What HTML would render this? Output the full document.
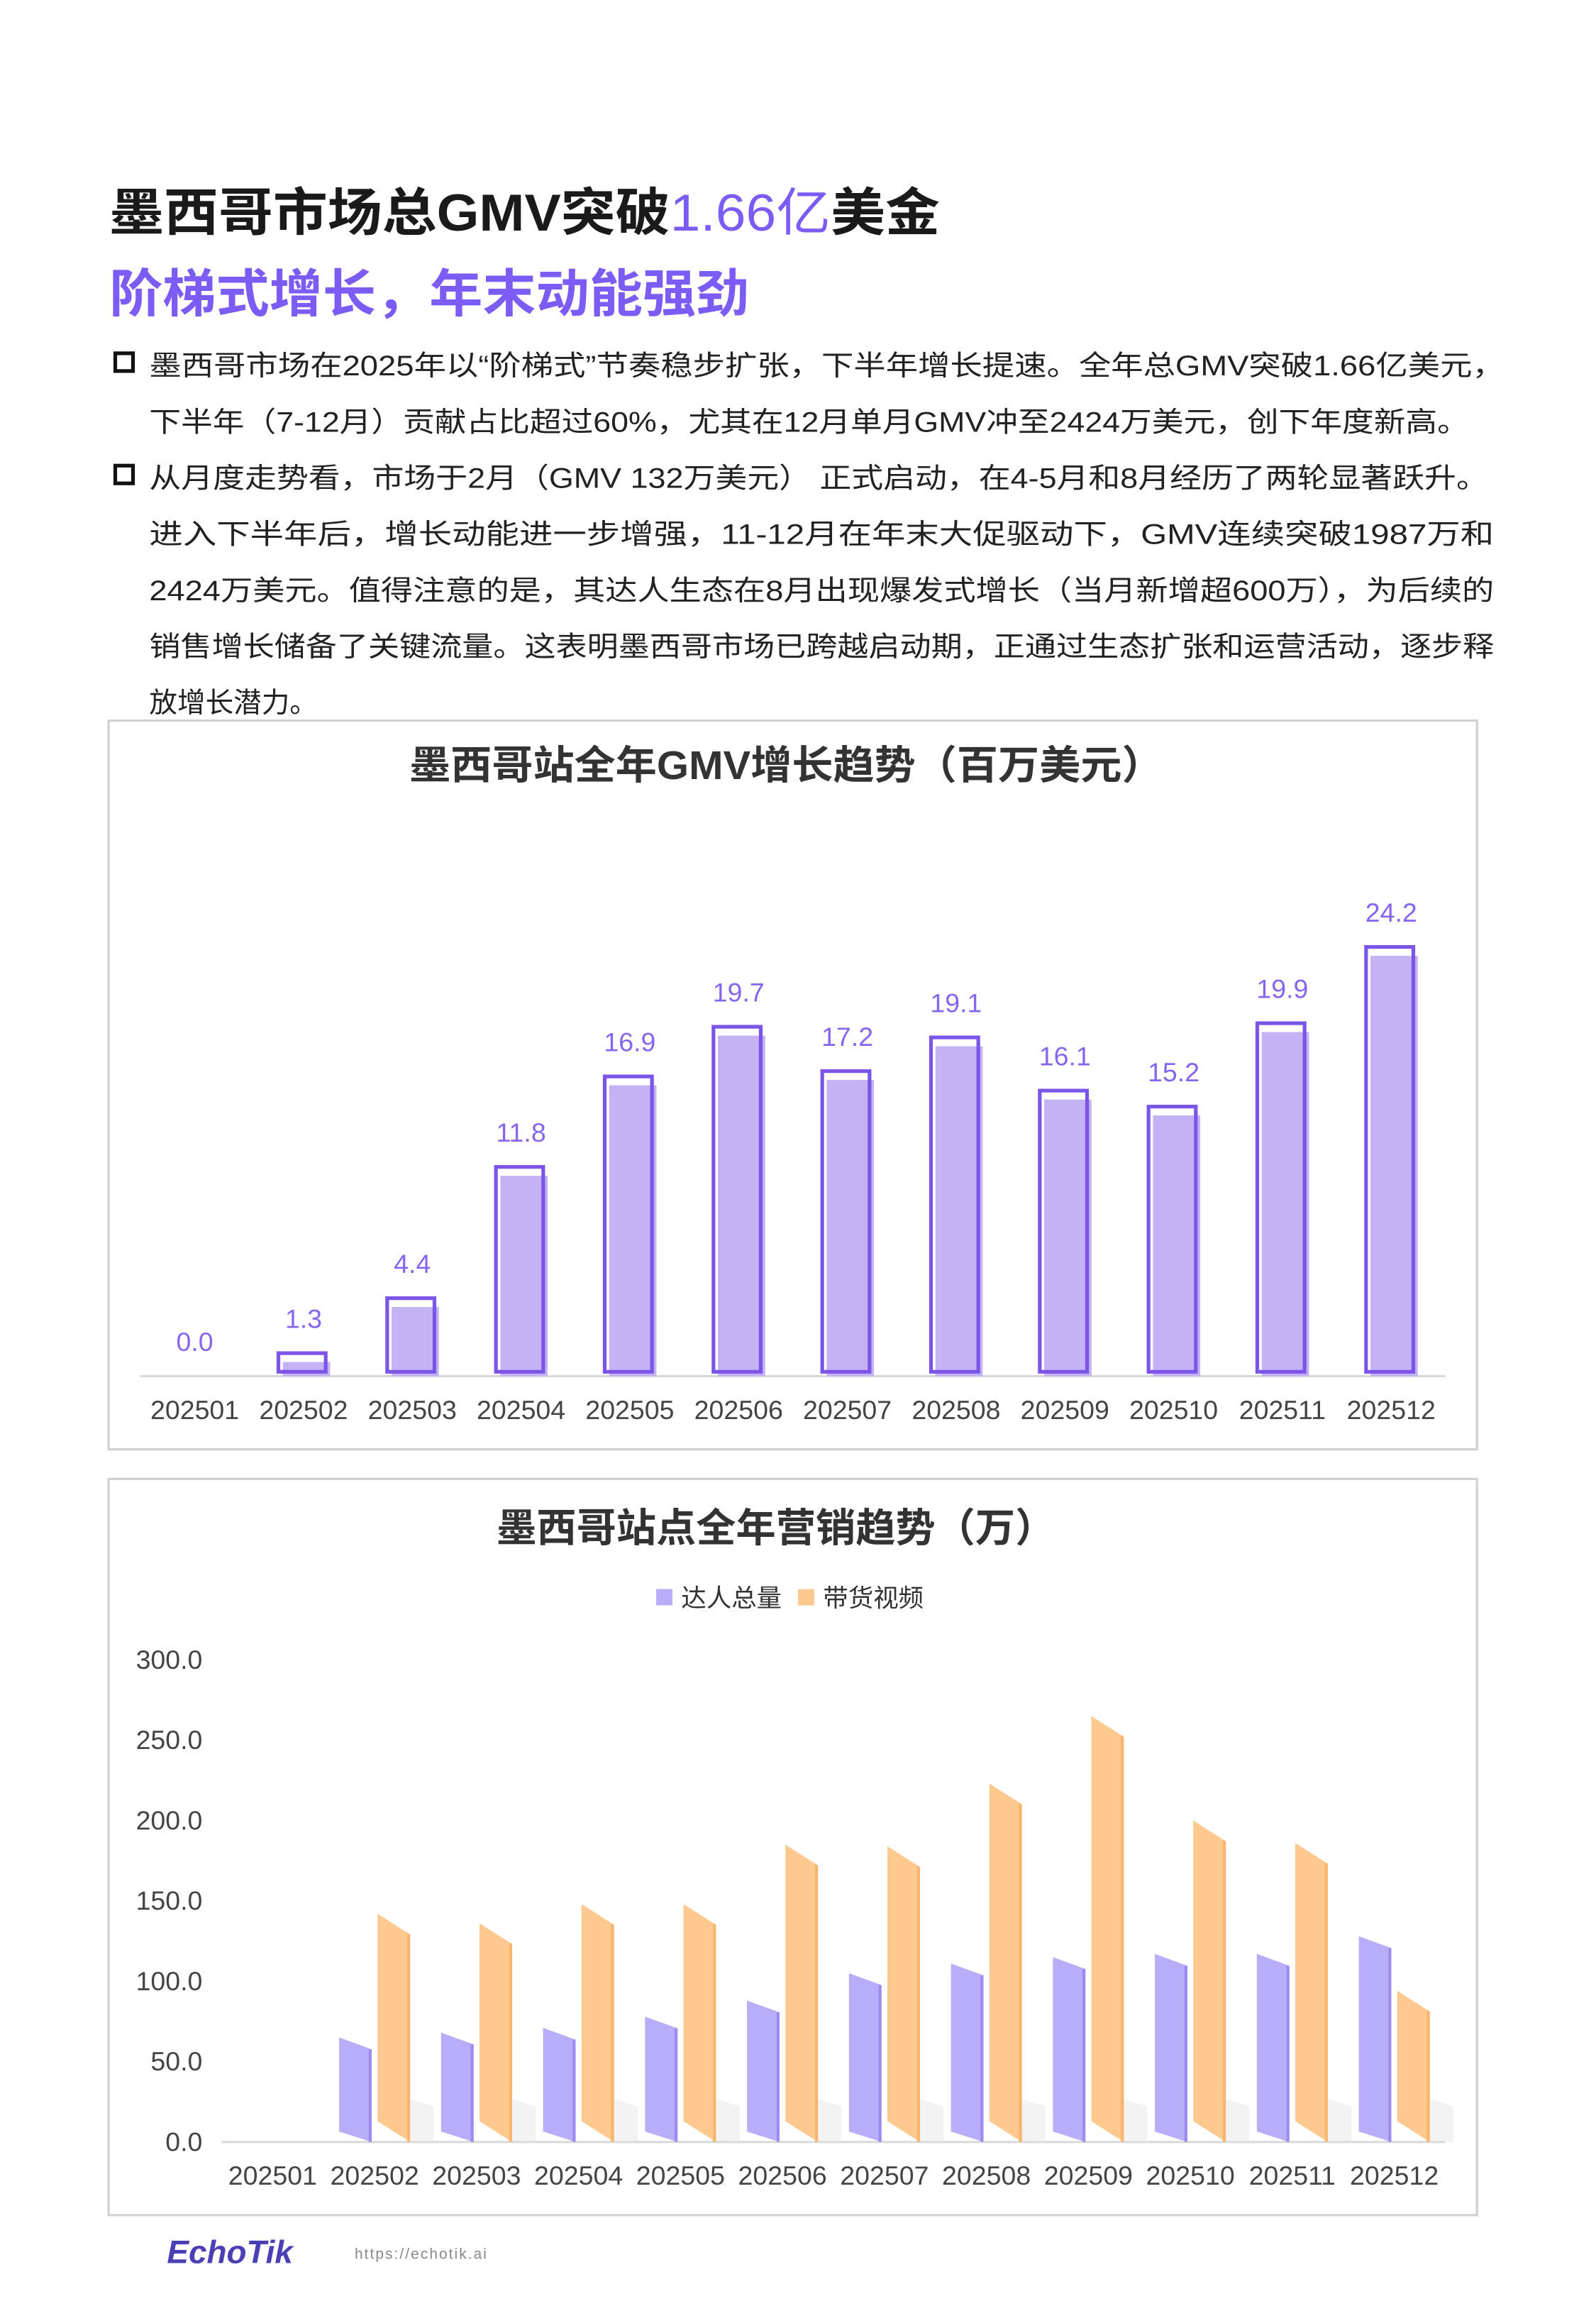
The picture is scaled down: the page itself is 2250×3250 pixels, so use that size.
<!DOCTYPE html>
<html><head><meta charset="utf-8">
<style>
html,body{margin:0;padding:0;background:#fff;}
svg{display:block;}
text{font-family:"Liberation Sans","Noto Sans CJK SC",sans-serif;}
</style></head>
<body>
<svg id="s" width="2250" height="3250" viewBox="0 0 1080 1560" xmlns="http://www.w3.org/2000/svg">
<text x="74" y="156" font-size="35" font-weight="bold" fill="#1a1a1a" textLength="562" lengthAdjust="spacingAndGlyphs">墨西哥市场总GMV突破<tspan fill="#7b5cf5" font-weight="normal">1.66亿</tspan>美金</text>
<text x="74" y="211" font-size="35" font-weight="bold" fill="#7b5cf5" textLength="433" lengthAdjust="spacingAndGlyphs">阶梯式增长，年末动能强劲</text>
<g font-size="19" fill="#222">
<rect x="78" y="239" width="12" height="12" fill="none" stroke="#111" stroke-width="2.5"/>
<text x="101" y="254" textLength="917" lengthAdjust="spacingAndGlyphs">墨西哥市场在2025年以“阶梯式”节奏稳步扩张，下半年增长提速。全年总GMV突破1.66亿美元，</text>
<text x="101" y="292" textLength="893" lengthAdjust="spacingAndGlyphs">下半年（7-12月）贡献占比超过60%，尤其在12月单月GMV冲至2424万美元，创下年度新高。</text>
<rect x="78" y="315" width="12" height="12" fill="none" stroke="#111" stroke-width="2.5"/>
<text x="101" y="330" textLength="906" lengthAdjust="spacingAndGlyphs">从月度走势看，市场于2月（GMV 132万美元） 正式启动，在4-5月和8月经历了两轮显著跃升。</text>
<text x="101" y="368" textLength="910" lengthAdjust="spacingAndGlyphs">进入下半年后，增长动能进一步增强，11-12月在年末大促驱动下，GMV连续突破1987万和</text>
<text x="101" y="406" textLength="910" lengthAdjust="spacingAndGlyphs">2424万美元。值得注意的是，其达人生态在8月出现爆发式增长（当月新增超600万），为后续的</text>
<text x="101" y="444" textLength="910" lengthAdjust="spacingAndGlyphs">销售增长储备了关键流量。这表明墨西哥市场已跨越启动期，正通过生态扩张和运营活动，逐步释</text>
<text x="101" y="482">放增长潜力。</text>
</g>
<rect x="73.5" y="487.5" width="926" height="493" fill="#fff" stroke="#d0d0d0" stroke-width="1.5"/>
<text x="532" y="527" font-size="27" font-weight="bold" fill="#333" text-anchor="middle" textLength="510" lengthAdjust="spacingAndGlyphs">墨西哥站全年GMV增长趋势（百万美元）</text>
<line x1="95" y1="931" x2="978" y2="931" stroke="#d9d9d9" stroke-width="1.5"/>
<g id="c1"></g>
<rect x="73.5" y="1000.5" width="926" height="498" fill="#fff" stroke="#d0d0d0" stroke-width="1.5"/>
<text x="525" y="1043" font-size="27" font-weight="bold" fill="#333" text-anchor="middle">墨西哥站点全年营销趋势（万）</text>
<rect x="444" y="1075" width="11" height="11" fill="#b8adf8"/>
<text x="461" y="1087" font-size="17" fill="#333">达人总量</text>
<rect x="540" y="1075" width="11" height="11" fill="#fdc98e"/>
<text x="557" y="1087" font-size="17" fill="#333">带货视频</text>
<line x1="150" y1="1449" x2="978" y2="1449" stroke="#d9d9d9" stroke-width="1.5"/>
<g id="c2"></g>
<text x="113" y="1531" font-size="22" font-weight="bold" font-style="italic" fill="#4a3fb5">EchoTik</text>
<text x="240" y="1528" font-size="10" fill="#888" letter-spacing="1">https://echotik.ai</text>
</svg>
<script>
(function(){
var NS="http://www.w3.org/2000/svg";
function el(p,t,a,txt){var e=document.createElementNS(NS,t);for(var k in a)e.setAttribute(k,a[k]);if(txt!=null)e.textContent=txt;p.appendChild(e);return e;}
var c1=document.getElementById('c1');
var v1=[0,1.3,4.4,11.8,16.9,19.7,17.2,19.1,16.1,15.2,19.9,24.2];
for(var i=0;i<12;i++){
 var cx=95+73.6*(i+0.5), bt=931-v1[i]*12, h=v1[i]*12;
 if(h>0){
  el(c1,'rect',{x:cx-14,y:bt+6,width:32,height:h-6,fill:'#c4b2f4'});
  el(c1,'rect',{x:cx-17,y:bt,width:32,height:h-3,fill:'none',stroke:'#7b55e8','stroke-width':2.5});
 }
 el(c1,'text',{x:cx,y:bt-17,'font-size':18,fill:'#8666ee','text-anchor':'middle'},v1[i].toFixed(1));
 el(c1,'text',{x:cx,y:960,'font-size':18,fill:'#444','text-anchor':'middle'},'2025'+(i<9?'0':'')+(i+1));
}
var c2=document.getElementById('c2');
var ys=[0,50,100,150,200,250,300];
for(var j=0;j<ys.length;j++){el(c2,'text',{x:137,y:1455-ys[j]*1.087,'font-size':18,fill:'#444','text-anchor':'end'},ys[j].toFixed(1));}
var pv=[0,65,68,71,78,88,105,111,115,117,117,128];
var ov=[0,142,136,148,148,185,184,223,265,200,186,94];
for(var i=0;i<12;i++){
 var cx=150+69*(i+0.5);
 el(c2,'text',{x:cx,y:1478,'font-size':18,fill:'#444','text-anchor':'middle'},'2025'+(i<9?'0':'')+(i+1));
 if(pv[i]>0){
  var pt=1449-pv[i]*1.087, ot=1449-ov[i]*1.087;
  el(c2,'polygon',{points:(cx+24)+',1420 '+(cx+40)+',1425 '+(cx+40)+',1449 '+(cx+24)+',1449',fill:'#e8e8e8',opacity:0.5});
  el(c2,'polygon',{points:(cx-24)+','+pt+' '+(cx-2)+','+(pt+8)+' '+(cx-2)+',1449 '+(cx-24)+',1442',fill:'#b8adf8'});
  el(c2,'polygon',{points:(cx-4)+','+(pt+8)+' '+(cx-2)+','+(pt+8)+' '+(cx-2)+',1449 '+(cx-4)+',1449',fill:'#9c8cf2'});
  el(c2,'polygon',{points:(cx+2)+','+ot+' '+(cx+24)+','+(ot+14)+' '+(cx+24)+',1449 '+(cx+2)+',1435',fill:'#fdc98e'});
  el(c2,'polygon',{points:(cx+22)+','+(ot+13)+' '+(cx+24)+','+(ot+14)+' '+(cx+24)+',1449 '+(cx+22)+',1449',fill:'#f7b56e'});
 }
}
})();
</script>
</body></html>
